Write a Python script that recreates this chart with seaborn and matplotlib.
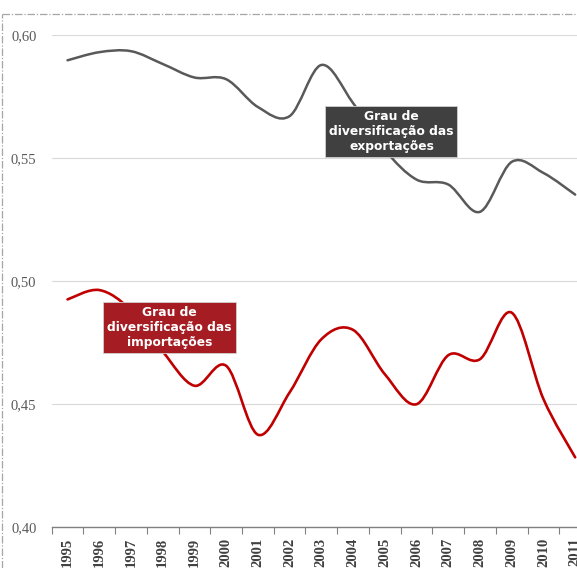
import numpy as np
import pandas as pd
import matplotlib.pyplot as plt
import seaborn as sns
from matplotlib.path import Path
from matplotlib.patches import PathPatch, Rectangle
from matplotlib.lines import Line2D

years = [str(y) for y in range(1995, 2012)]
exportacoes = [0.5896, 0.5929, 0.5933, 0.5881, 0.5826, 0.5819, 0.5706, 0.5669, 0.5877,
               0.5722, 0.5532, 0.5411, 0.5391, 0.5280, 0.5483, 0.5438, 0.5350]
importacoes = [0.4924, 0.4962, 0.4880, 0.4712, 0.4573, 0.4654, 0.4374, 0.4546, 0.4762,
               0.4800, 0.4620, 0.4498, 0.4697, 0.4681, 0.4870, 0.4519, 0.4282]
y_ticks = [0.40, 0.45, 0.50, 0.55, 0.60]

df = pd.DataFrame({'Ano': years, 'Exportações': exportacoes, 'Importações': importacoes})


def smooth_path(xs, ys):
    # curva suavizada estilo Excel (Bezier cúbica pelos pontos)
    pts = np.column_stack([xs, ys])
    verts = [pts[0]]
    codes = [Path.MOVETO]
    n = len(pts)
    for i in range(n - 1):
        p0 = pts[i - 1] if i > 0 else pts[i]
        p1 = pts[i]
        p2 = pts[i + 1]
        p3 = pts[i + 2] if i + 2 < n else pts[i + 1]
        c1 = p1 + (p2 - p0) / 6
        c2 = p2 - (p3 - p1) / 6
        verts += [c1, c2, p2]
        codes += [Path.CURVE4] * 3
    return Path(verts, codes)


sns.set_theme(style="white")
plt.rcParams['font.family'] = ['DejaVu Sans']

fig = plt.figure(figsize=(5.77, 5.68), dpi=100)
ax = fig.add_axes([0.0896, 0.0727, 0.9347, 0.8662])

x = np.arange(len(years))
ax.add_patch(PathPatch(smooth_path(x, df['Exportações'].values), fill=False,
                       edgecolor='#595959', lw=1.8, capstyle='round', zorder=3))
ax.add_patch(PathPatch(smooth_path(x, df['Importações'].values), fill=False,
                       edgecolor='#c00000', lw=1.9, capstyle='round', zorder=3))

ax.set_xlim(-0.5, len(years) - 0.5)
ax.set_ylim(0.40, 0.60)

ax.set_yticks(y_ticks)
ax.set_yticklabels([f"{v:.2f}".replace('.', ',') for v in y_ticks],
                   fontfamily='Liberation Serif', fontsize=10.5, color='#595959')
ax.yaxis.grid(True, color='#d9d9d9', lw=0.8)
ax.tick_params(axis='y', length=0, pad=11)

ax.set_xticks(x)
ax.set_xticklabels(years, rotation=90, fontfamily='Liberation Serif', fontweight='bold',
                   fontsize=10.5, color='#404040')
ax.set_xticks(np.arange(-0.5, len(years), 1), minor=True)
ax.tick_params(axis='x', which='major', length=0, pad=8)
ax.tick_params(axis='x', which='minor', length=5, width=0.8, color='#808080', direction='out', bottom=True)

for s in ['top', 'right', 'left']:
    ax.spines[s].set_visible(False)
ax.spines['bottom'].set_color('#808080')
ax.spines['bottom'].set_linewidth(1)

# caixas de rótulo
ax.add_patch(Rectangle((8.13, 0.5501), 4.16, 0.0210, facecolor='#404040',
                       edgecolor='#d0d0d0', lw=0.6, zorder=4))
ax.text(10.21, 0.5606, "Grau de\ndiversificação das\nexportações", ha='center', va='center',
        color='white', fontsize=8.8, fontweight='bold', linespacing=1.2, zorder=5)

ax.add_patch(Rectangle((1.117, 0.4705), 4.20, 0.0207, facecolor='#a51d22',
                       edgecolor='#d0d0d0', lw=0.6, zorder=4))
ax.text(3.22, 0.4809, "Grau de\ndiversificação das\nimportações", ha='center', va='center',
        color='white', fontsize=8.8, fontweight='bold', linespacing=1.2, zorder=5)

# borda tracejada da área do gráfico
border = dict(color='#a6a6a6', lw=0.9, linestyle=(0, (6, 1.5, 1, 1.5)))
fig.add_artist(Line2D([1.5 / 577, 1], [0.9754, 0.9754], transform=fig.transFigure, **border))
fig.add_artist(Line2D([1.5 / 577, 1.5 / 577], [0, 0.9754], transform=fig.transFigure, **border))

fig.savefig('out.png', dpi=100)
